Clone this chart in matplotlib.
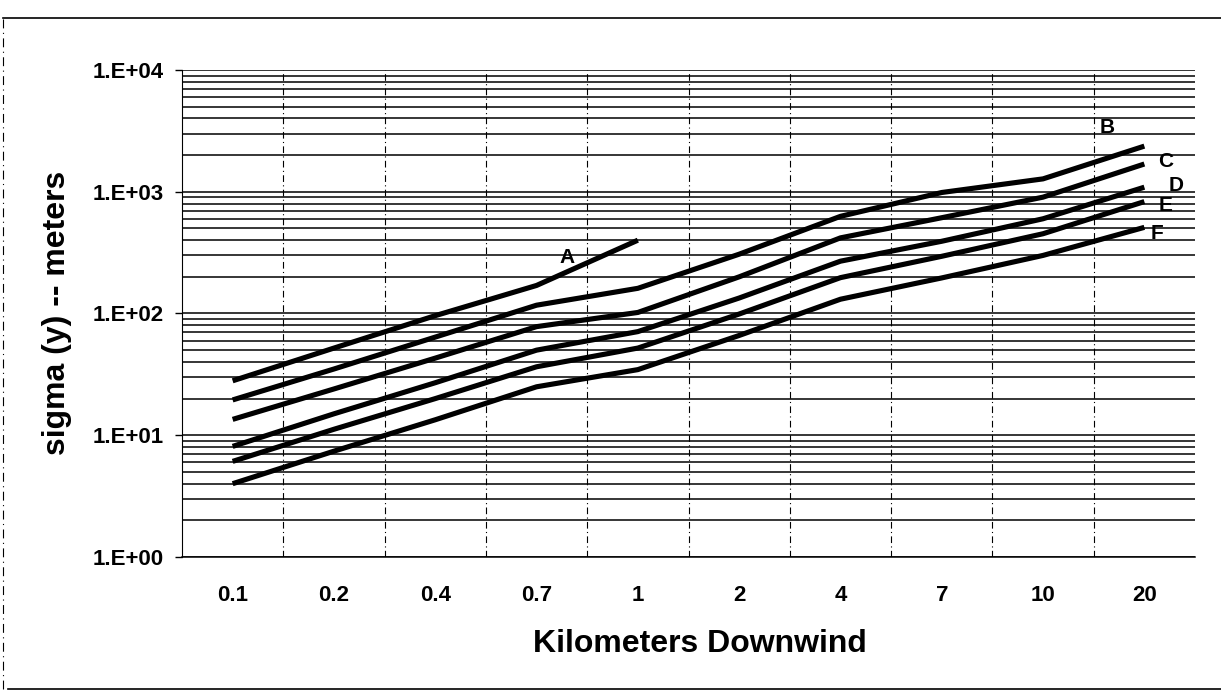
import numpy as np
import matplotlib.pyplot as plt
from matplotlib.lines import Line2D
from matplotlib.ticker import FixedLocator, FuncFormatter, LogLocator, NullFormatter

plt.rcParams.update({
    "font.family": ["Liberation Sans", "DejaVu Sans"],
    "font.weight": "bold",
})

# downwind distance categories (km) and sigma-y by stability class (m)
distances = ["0.1", "0.2", "0.4", "0.7", "1", "2", "4", "7", "10", "20"]
sigma_a = [28, 52, 96, 170, 400]
sigma_b = [19.5, 35, 64, 117, 161, 307, 628, 986, 1276, 2370]
sigma_c = [13.5, 24, 43, 78, 102, 200, 418, 612, 903, 1690]
sigma_d = [8.1, 15, 27, 50, 71, 134, 269, 392, 600, 1090]
sigma_e = [6.1, 11.2, 20, 36.5, 52, 99, 197, 295, 452, 830]
sigma_f = [4.0, 7.4, 13.4, 25, 34.6, 66, 131, 196, 300, 510]
classes = ["A", "B", "C", "D", "E", "F"]

W, H = 1221, 698
fig = plt.figure(figsize=(W / 100, H / 100), dpi=100)
ax = fig.add_axes([182 / W, 1 - 557 / H, (1195 - 182) / W, (557 - 70) / H])

x = np.arange(len(distances))
for vals in [sigma_a, sigma_b, sigma_c, sigma_d, sigma_e, sigma_f]:
    ax.plot(x[:len(vals)], vals, color="black", lw=3.7, solid_capstyle="butt",
            zorder=3)

ax.set_yscale("log")
ax.set_ylim(1, 1e4)
ax.set_xlim(-0.5, len(distances) - 0.5)

ax.yaxis.set_major_locator(LogLocator(base=10))
ax.yaxis.set_minor_locator(LogLocator(base=10, subs=np.arange(2, 10)))
ax.yaxis.set_major_formatter(FuncFormatter(lambda v, p: "1.E+%02d" % round(np.log10(v))))
ax.yaxis.set_minor_formatter(NullFormatter())
ax.grid(True, axis="y", which="both", color="black", lw=1.1)

ax.set_xticks(x)
ax.set_xticklabels(distances)
ax.xaxis.set_minor_locator(FixedLocator(x[:-1] + 0.5))
ax.grid(True, axis="x", which="minor", color="black", lw=0.8,
        linestyle=(0, (6, 3, 1, 3)))

ax.tick_params(axis="x", which="both", length=0, pad=20, labelsize=16)
ax.tick_params(axis="y", which="major", length=5, width=1, pad=8, labelsize=16)
ax.tick_params(axis="y", which="minor", length=0)

for s in ["top", "right"]:
    ax.spines[s].set_visible(False)
ax.spines["left"].set_linewidth(0.8)
ax.spines["bottom"].set_linewidth(1.1)

# class labels next to the curves
label_pos = [(3.3, 288), (8.63, 3400), (9.21, 1770), (9.31, 1120), (9.21, 770), (9.12, 454)]
for name, (lx, ly) in zip(classes, label_pos):
    ax.text(lx, ly, name, fontsize=15, fontweight="bold", ha="center",
            va="center", zorder=4)

fig.text(57 / W, 1 - 313 / H, "sigma (y) -- meters", rotation=90, fontsize=23,
         fontweight="bold", ha="center", va="center")
fig.text(700 / W, 1 - 652 / H, "Kilometers Downwind", fontsize=23,
         fontweight="bold", ha="center", va="baseline")

# outer chart border
fig.add_artist(Line2D([3 / W, 1], [1 - 18 / H, 1 - 18 / H], color="black", lw=1.2))
fig.add_artist(Line2D([8 / W, 1], [1 - 689 / H, 1 - 689 / H], color="black", lw=1.2))
fig.add_artist(Line2D([3 / W, 3 / W], [1 - 689 / H, 1 - 18 / H], color="black",
                      lw=0.8, linestyle=(0, (8, 4, 1, 4))))

fig.savefig("out.png", dpi=100)
